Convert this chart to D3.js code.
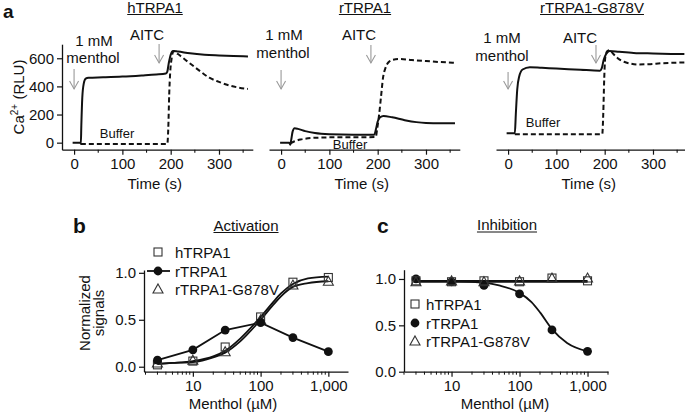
<!DOCTYPE html>
<html><head><meta charset="utf-8">
<script src="https://cdn.jsdelivr.net/npm/d3@7"></script>
<style>
body{margin:0;background:#fff}
svg text{font-family:"Liberation Sans",Arial,Helvetica,sans-serif;fill:#111}
</style>
</head><body>
<svg id="fig" width="685" height="417"></svg>
<script>
// ---------------- DATA ----------------
// Panel a : Ca2+ traces, [time (s), RLU]
const panelTitles = ["hTRPA1", "rTRPA1", "rTRPA1-G878V"];
const timeTicks = [0, 100, 200, 300];
const timeMinorTicks = [50, 150, 250, 350];
const caTicks = [0, 200, 400, 600];
const aitcTimes = [176, 186, 182];
const mentholTimes = [0, 0, 0];

const hMenthol = [[-3,0],[13,0],[14,-8],[15,120],[17,320],[20,420],[24,455],[30,462],[60,465],[100,470],[140,478],[170,485],[190,492],[193,505],[196,565],[200,625],[205,652],[215,648],[240,635],[270,625],[300,620],[330,616],[360,613]];
const hBuffer  = [[14,-10],[193,-10],[195,100],[197,350],[199,500],[202,600],[206,650],[215,630],[230,590],[245,550],[260,510],[280,462],[300,432],[320,408],[340,392],[360,382]];
const rMenthol = [[-2,0],[17,0],[19,-15],[21,20],[24,80],[28,102],[35,98],[50,82],[70,68],[100,60],[150,57],[193,57],[196,90],[200,150],[205,180],[212,190],[230,180],[256,160],[280,146],[300,140],[330,138],[360,138]];
const rBuffer  = [[19,-5],[25,5],[40,22],[56,31],[80,36],[105,38],[150,38],[196,40],[199,100],[203,200],[207,330],[211,460],[216,530],[222,570],[232,590],[245,595],[270,588],[300,580],[330,573],[360,568]];
const gMenthol = [[-3,67],[14,67],[16,200],[19,380],[23,470],[30,520],[45,537],[70,532],[100,527],[150,518],[190,512],[194,530],[198,590],[203,630],[210,652],[230,646],[260,638],[300,634],[340,631],[365,630]];
const gBuffer  = [[14,60],[195,60],[197,200],[199,450],[201,600],[205,650],[210,658],[218,630],[227,600],[240,575],[254,562],[270,556],[290,558],[320,565],[365,570]];

// Panels b and c : menthol concentration (µM)
const conc = [3, 10, 30, 100, 300, 1000];
const concTicks = [10, 100, 1000];
const normTicks = [0, 0.5, 1.0];
const seriesNames = ["hTRPA1", "rTRPA1", "rTRPA1-G878V"];

const actH = [0.02, 0.06, 0.21, 0.53, 0.90, 0.95];
const actR = [0.07, 0.18, 0.39, 0.47, 0.31, 0.16];
const actG = [0.04, 0.07, 0.16, 0.50, 0.87, 0.91];
// fitted curves
const fitConc  = [3, 5, 10, 20, 30, 50, 100, 150, 200, 300, 500, 1000];
const actFitH  = [0.03, 0.04, 0.06, 0.11, 0.17, 0.30, 0.53, 0.68, 0.78, 0.88, 0.94, 0.96];
const actFitG  = [0.03, 0.04, 0.05, 0.10, 0.15, 0.27, 0.50, 0.65, 0.75, 0.85, 0.89, 0.91];

const inhH = [0.98, 0.97, 0.98, 0.97, 1.01, 0.98];
const inhR = [1.00, 0.97, 0.93, 0.84, 0.45, 0.22];
const inhG = [0.97, 0.98, 0.97, 0.98, 1.01, 1.01];
const inhFitH = [0.98, 0.98, 0.98, 0.98, 0.98, 0.98, 0.98, 0.98, 0.98, 0.98, 0.98, 0.98];
const inhFitR = [0.98, 0.98, 0.975, 0.97, 0.96, 0.93, 0.85, 0.75, 0.64, 0.46, 0.31, 0.22];
const inhFitG = [0.97, 0.97, 0.97, 0.97, 0.97, 0.97, 0.97, 0.97, 0.97, 0.97, 0.97, 0.97];

// ---------------- DRAW ----------------
const svg = d3.select("#fig");
const FS = 15;

function underlined(g, x, y, txt, size) {
  const t = g.append("text").attr("x", x).attr("y", y).attr("text-anchor", "middle")
    .attr("font-size", size).text(txt);
  const w = t.node().getComputedTextLength();
  g.append("line").attr("x1", x - w/2).attr("x2", x + w/2).attr("y1", y + 2).attr("y2", y + 2)
    .attr("stroke", "#111").attr("stroke-width", 1);
}
function styleAxis(g) {
  g.selectAll("path.domain").attr("stroke", "#111").attr("stroke-width", 1.3);
  g.selectAll(".tick line").attr("stroke", "#111").attr("stroke-width", 1.2);
  g.selectAll(".tick text").attr("font-size", FS).attr("fill", "#111")
    .style("font-family", '"Liberation Sans",Arial,sans-serif');
}
function arrow(g, x, y1, y2) {
  const a = g.append("g").attr("stroke", "#9a9a9a").attr("stroke-width", 1.1).attr("fill", "none");
  a.append("line").attr("x1", x).attr("x2", x).attr("y1", y1).attr("y2", y2);
  a.append("path").attr("d", `M${x-4.5},${y2-8} L${x},${y2} L${x+4.5},${y2-8}`);
}

// Panel labels
svg.append("text").attr("x", 3).attr("y", 17.5).attr("font-size", 19).attr("font-weight", "bold").text("a");
svg.append("text").attr("x", 73).attr("y", 233).attr("font-size", 21).attr("font-weight", "bold").text("b");
svg.append("text").attr("x", 377).attr("y", 233).attr("font-size", 21).attr("font-weight", "bold").text("c");

// ----- Panel a -----
const aY = d3.scaleLinear().domain([-50, 700]).range([149.7, 44.2]);
const aRanges = [[62, 252.8], [269, 459.8], [496, 686.8]];
const traces = [[hMenthol, hBuffer], [rMenthol, rBuffer], [gMenthol, gBuffer]];
const titleX = [155, 365, 592];
const labelPos = [
  {mm:[94,46], me:[93,63], ai:[147,40], buf:[117,138]},
  {mm:[284,40], me:[283,58], ai:[359,40], buf:[350,149]},
  {mm:[502,43], me:[502,61], ai:[580,43], buf:[543,127]}
];
const arrowY = [{m:[69,89], a:[44,63]}, {m:[70,89], a:[45,63]}, {m:[72,89], a:[45,63]}];

aRanges.forEach((r, i) => {
  const x = d3.scaleLinear().domain([-25, 370]).range(r);
  const g = svg.append("g");
  const xa = g.append("g").attr("transform", "translate(0,149.7)")
    .call(d3.axisBottom(x).tickValues(timeTicks).tickSize(5).tickSizeOuter(0).tickPadding(4));
  styleAxis(xa);
  g.append("g").selectAll("line").data(timeMinorTicks).join("line")
    .attr("x1", d => x(d)).attr("x2", d => x(d)).attr("y1", 149.7).attr("y2", 152.7)
    .attr("stroke", "#111").attr("stroke-width", 1.1);
  if (i === 0) {
    const ya = g.append("g").attr("transform", `translate(${r[0]},0)`)
      .call(d3.axisLeft(aY).tickValues(caTicks).tickSize(5).tickSizeOuter(0).tickPadding(3));
    styleAxis(ya);
    const yl = g.append("text").attr("transform", "translate(24,97) rotate(-90)")
      .attr("text-anchor", "middle").attr("font-size", FS);
    yl.append("tspan").text("Ca");
    yl.append("tspan").attr("dy", -6).attr("font-size", 10).text("2+");
    yl.append("tspan").attr("dy", 6).text(" (RLU)");
  }
  g.append("text").attr("x", x(167)).attr("y", 189).attr("text-anchor", "middle")
    .attr("font-size", FS).text("Time (s)");
  underlined(g, titleX[i], 12.5, panelTitles[i], FS);

  const line = d3.line().x(d => x(d[0])).y(d => aY(d[1])).curve(d3.curveMonotoneX);
  g.append("path").attr("d", line(traces[i][1])).attr("fill", "none").attr("stroke", "#111")
    .attr("stroke-width", 2).attr("stroke-dasharray", "5,3");
  g.append("path").attr("d", line(traces[i][0])).attr("fill", "none").attr("stroke", "#111")
    .attr("stroke-width", 2);

  const lp = labelPos[i];
  g.append("text").attr("x", lp.mm[0]).attr("y", lp.mm[1]).attr("text-anchor", "middle").attr("font-size", FS).text("1 mM");
  g.append("text").attr("x", lp.me[0]).attr("y", lp.me[1]).attr("text-anchor", "middle").attr("font-size", FS).text("menthol");
  g.append("text").attr("x", lp.ai[0]).attr("y", lp.ai[1]).attr("text-anchor", "middle").attr("font-size", FS).text("AITC");
  g.append("text").attr("x", lp.buf[0]).attr("y", lp.buf[1]).attr("text-anchor", "middle").attr("font-size", 13).text("Buffer");
  arrow(g, x(mentholTimes[i]), arrowY[i].m[0], arrowY[i].m[1]);
  arrow(g, x(aitcTimes[i]), arrowY[i].a[0], arrowY[i].a[1]);
});

// ----- markers -----
function marker(g, type, cx, cy) {
  if (type === 0) {
    g.append("rect").attr("x", cx - 4).attr("y", cy - 4).attr("width", 8).attr("height", 8)
      .attr("fill", "none").attr("stroke", "#333").attr("stroke-width", 1.1);
  } else if (type === 1) {
    g.append("circle").attr("cx", cx).attr("cy", cy).attr("r", 4.4).attr("fill", "#111");
  } else {
    g.append("path").attr("d", `M${cx},${cy-5} L${cx+5},${cy+4} L${cx-5},${cy+4} Z`)
      .attr("fill", "none").attr("stroke", "#333").attr("stroke-width", 1.1);
  }
}

function doseAxes(g, x, y, axX, axTop, axBottom) {
  const xa = g.append("g").attr("transform", `translate(0,${axBottom})`)
    .call(d3.axisBottom(x).tickValues(concTicks).tickFormat(d3.format(",")).tickSize(5).tickSizeOuter(0).tickPadding(4));
  styleAxis(xa);
  const minors = x.ticks().filter(v => !concTicks.includes(v));
  g.append("g").selectAll("line").data(minors).join("line")
    .attr("x1", d => x(d)).attr("x2", d => x(d)).attr("y1", axBottom).attr("y2", axBottom + 3)
    .attr("stroke", "#111").attr("stroke-width", 1);
  const ya = g.append("g").attr("transform", `translate(${axX},0)`)
    .call(d3.axisLeft(y).tickValues(normTicks).tickFormat(d3.format(".1f")).tickSize(5).tickSizeOuter(0).tickPadding(3));
  styleAxis(ya);
}

// ----- Panel b -----
{
  const g = svg.append("g");
  const x = d3.scaleLog().domain([1.9, 1950]).range([144, 348]);
  const y = d3.scaleLinear().domain([-0.053, 1.03]).range([371.7, 270]);
  doseAxes(g, x, y, 144, 270, 371.7);
  underlined(g, 246, 230.5, "Activation", FS);
  g.append("text").attr("x", 233).attr("y", 409).attr("text-anchor", "middle").attr("font-size", FS).text("Menthol (µM)");
  const yl = g.append("text").attr("transform", "translate(90,313) rotate(-90)").attr("text-anchor", "middle").attr("font-size", FS);
  yl.append("tspan").attr("x", 0).attr("dy", 0).text("Normalized");
  yl.append("tspan").attr("x", 0).attr("dy", 14).text("signals");

  const fl = d3.line().x(d => x(d[0])).y(d => y(d[1])).curve(d3.curveMonotoneX);
  g.append("path").attr("d", fl(fitConc.map((c, i) => [c, actFitH[i]]))).attr("fill", "none").attr("stroke", "#111").attr("stroke-width", 1.8);
  g.append("path").attr("d", fl(fitConc.map((c, i) => [c, actFitG[i]]))).attr("fill", "none").attr("stroke", "#111").attr("stroke-width", 1.8);
  const ll = d3.line().x(d => x(d[0])).y(d => y(d[1]));
  g.append("path").attr("d", ll(conc.map((c, i) => [c, actR[i]]))).attr("fill", "none").attr("stroke", "#111").attr("stroke-width", 1.8);
  conc.forEach((c, i) => marker(g, 0, x(c), y(actH[i])));
  conc.forEach((c, i) => marker(g, 2, x(c), y(actG[i])));
  conc.forEach((c, i) => marker(g, 1, x(c), y(actR[i])));

  // legend
  const ly = [252, 271, 289];
  g.append("line").attr("x1", 147).attr("x2", 170).attr("y1", ly[1]).attr("y2", ly[1]).attr("stroke", "#111").attr("stroke-width", 1.8);
  seriesNames.forEach((n, i) => {
    marker(g, i, 158, ly[i]);
    g.append("text").attr("x", 175).attr("y", ly[i] + 5.5).attr("font-size", FS).text(n);
  });
}

// ----- Panel c -----
{
  const g = svg.append("g");
  const x = d3.scaleLog().domain([2, 2000]).range([404, 608]);
  const y = d3.scaleLinear().domain([0, 1.1]).range([371.7, 269.7]);
  doseAxes(g, x, y, 404, 269.7, 371.7);
  underlined(g, 507, 230, "Inhibition", FS);
  g.append("text").attr("x", 505).attr("y", 409).attr("text-anchor", "middle").attr("font-size", FS).text("Menthol (µM)");

  const fl = d3.line().x(d => x(d[0])).y(d => y(d[1])).curve(d3.curveMonotoneX);
  [inhFitH, inhFitG, inhFitR].forEach(f => {
    g.append("path").attr("d", fl(fitConc.map((c, i) => [c, f[i]]))).attr("fill", "none").attr("stroke", "#111").attr("stroke-width", 1.8);
  });
  conc.forEach((c, i) => marker(g, 1, x(c), y(inhR[i])));
  conc.forEach((c, i) => marker(g, 0, x(c), y(inhH[i])));
  conc.forEach((c, i) => marker(g, 2, x(c), y(inhG[i])));

  const ly = [304, 323, 341];
  seriesNames.forEach((n, i) => {
    marker(g, i, 415, ly[i]);
    g.append("text").attr("x", 426).attr("y", ly[i] + 5.5).attr("font-size", FS).text(n);
  });
}
</script>
</body></html>
